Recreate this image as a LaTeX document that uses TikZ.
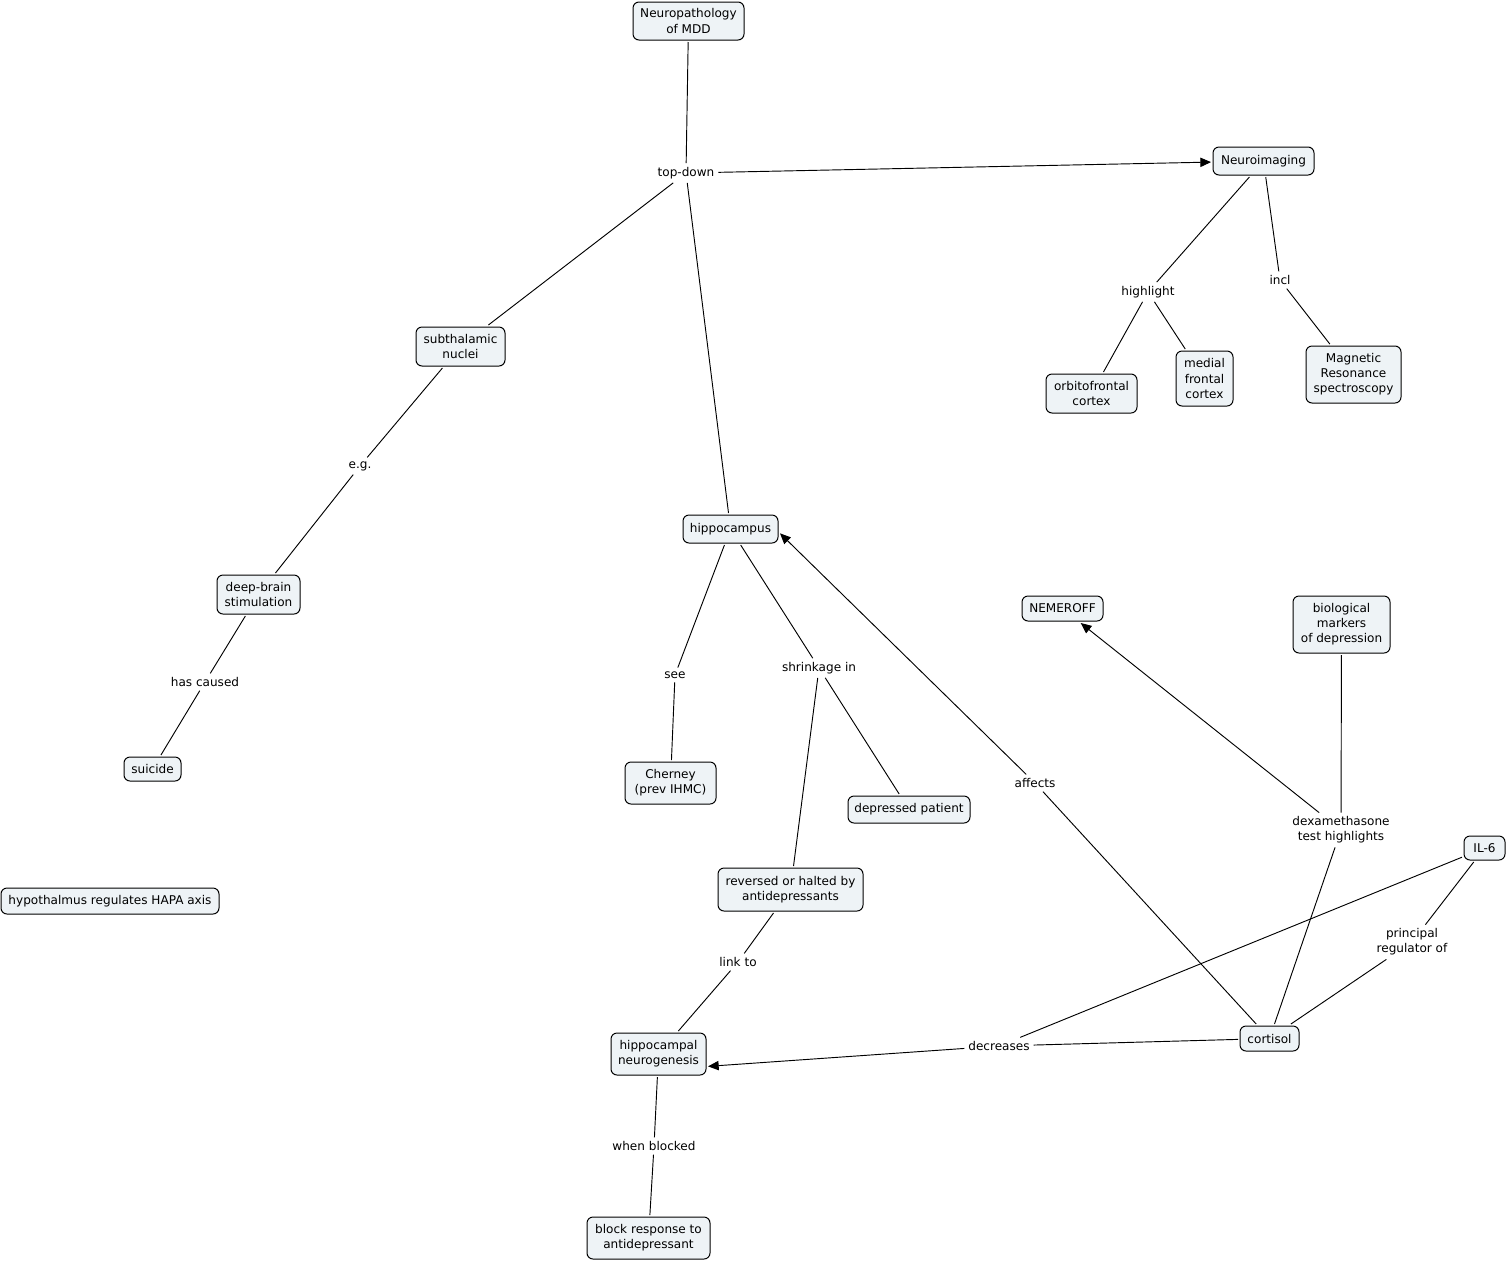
\documentclass[tikz,border=0pt]{standalone}
\usepackage{fontspec}
\setmainfont{DejaVu Sans}
\usetikzlibrary{arrows.meta}
\definecolor{nodefill}{HTML}{EEF3F6}
\begin{document}
\begin{tikzpicture}[x=0.75pt,y=-0.75pt,
  every node/.style={font=\fontsize{9.05}{11.3}\selectfont, align=center, inner sep=0pt},
  concept/.style={draw=black, fill=nodefill, rounded corners=4.5pt, line width=0.75pt, outer sep=1.5pt},
  lbl/.style={inner sep=2.5pt, outer sep=0.5pt},
  link/.style={line width=0.7pt},
  arr/.style={link, -{Triangle[length=8pt,width=7pt]}}]
\useasboundingbox (0,0) rectangle (1508,1261);

% concepts
\node[concept, minimum width=83.25pt, minimum height=28.5pt] (mdd) at (688.5,21) {Neuropathology\\of MDD};
\node[concept, minimum width=75.75pt, minimum height=21pt] (img) at (1263.5,161) {Neuroimaging};
\node[concept, minimum width=68.25pt, minimum height=29.25pt] (ofc) at (1091.5,393.5) {orbitofrontal\\cortex};
\node[concept, minimum width=42.75pt, minimum height=41.25pt] (mfc) at (1204.5,378.5) {medial\\frontal\\cortex};
\node[concept, minimum width=71.25pt, minimum height=42.75pt] (mrs) at (1353.5,374.5) {Magnetic\\Resonance\\spectroscopy};
\node[concept, minimum width=66.75pt, minimum height=29.25pt] (stn) at (460.5,346.5) {subthalamic\\nuclei};
\node[concept, minimum width=62.25pt, minimum height=29.25pt] (dbs) at (258.5,594.5) {deep-brain\\stimulation};
\node[concept, minimum width=42.75pt, minimum height=18pt] (sui) at (152.5,769) {suicide};
\node[concept, minimum width=163.5pt, minimum height=19.5pt] (hypo) at (110,901) {hypothalmus regulates HAPA axis};
\node[concept, minimum width=71.25pt, minimum height=21pt] (hip) at (730.5,529) {hippocampus};
\node[concept, minimum width=68.25pt, minimum height=31.5pt] (cher) at (670.5,783) {Cherney\\(prev IHMC)};
\node[concept, minimum width=91.5pt, minimum height=20.25pt] (dep) at (909,809.5) {depressed patient};
\node[concept, minimum width=108.75pt, minimum height=32.25pt] (rev) at (790.5,889.5) {reversed or halted by\\antidepressants};
\node[concept, minimum width=71.25pt, minimum height=31.5pt] (neuro) at (658.5,1054) {hippocampal\\neurogenesis};
\node[concept, minimum width=92.25pt, minimum height=31.5pt] (block) at (648.5,1238) {block response to\\antidepressant};
\node[concept, minimum width=44.25pt, minimum height=18.75pt] (cort) at (1269.5,1038.5) {cortisol};
\node[concept, minimum width=60.75pt, minimum height=18.75pt] (nem) at (1062.5,608.5) {NEMEROFF};
\node[concept, minimum width=72.75pt, minimum height=42.75pt] (bio) at (1341.5,624.5) {biological\\markers\\of depression};
\node[concept, minimum width=30.75pt, minimum height=18pt] (il6) at (1484.5,848) {IL-6};

% linking phrases
\node[lbl] (td) at (686,173) {top-down};
\node[lbl] (hl) at (1148,292) {highlight};
\node[lbl] (incl) at (1280,280) {incl};
\node[lbl] (eg) at (360,466) {e.g.};
\node[lbl] (hc) at (205,682) {has caused};
\node[lbl] (see) at (675,675) {see};
\node[lbl] (shr) at (819,668) {shrinkage in};
\node[lbl] (lt) at (738,962) {link to};
\node[lbl] (wb) at (654,1146) {when blocked};
\node[lbl] (dec) at (999,1046) {decreases};
\node[lbl] (aff) at (1035,783) {affects};
\node[lbl] (dex) at (1341,830) {dexamethasone\\test highlights};
\node[lbl] (pr) at (1412,942) {principal\\regulator of};

% connectors
\draw[link] (mdd) -- (td);
\draw[arr] (td) -- (img);
\draw[link] (td) -- (stn);
\draw[link] (td) -- (hip);
\draw[link] (img) -- (hl);
\draw[link] (hl) -- (ofc);
\draw[link] (hl) -- (mfc);
\draw[link] (img) -- (incl);
\draw[link] (incl) -- (mrs);
\draw[link] (stn) -- (eg);
\draw[link] (eg) -- (dbs);
\draw[link] (dbs) -- (hc);
\draw[link] (hc) -- (sui);
\draw[link] (hip) -- (see);
\draw[link] (see) -- (cher);
\draw[link] (hip) -- (shr);
\draw[link] (shr) -- (rev);
\draw[link] (shr) -- (dep);
\draw[link] (rev) -- (lt);
\draw[link] (lt) -- (neuro);
\draw[link] (neuro) -- (wb);
\draw[link] (wb) -- (block);
\draw[link] (cort) -- (dec);
\draw[link] (il6) -- (dec);
\draw[arr] (dec) -- (neuro.-14);
\draw[link] (cort) -- (aff);
\draw[arr] (aff) -- (hip.-5);
\draw[link] (cort) -- (dex);
\draw[link] (bio) -- (dex);
\draw[arr] (dex) -- (nem);
\draw[link] (il6) -- (pr);
\draw[link] (pr) -- (cort);
\end{tikzpicture}
\end{document}
